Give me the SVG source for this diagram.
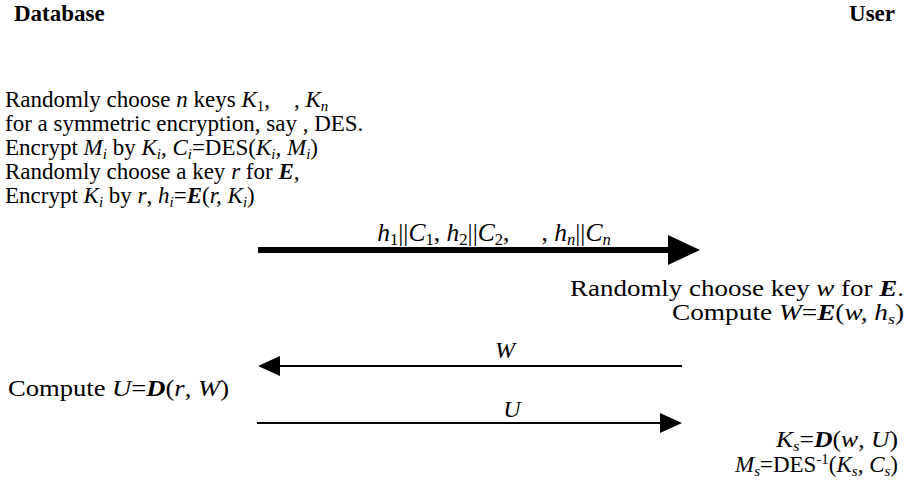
<svg xmlns="http://www.w3.org/2000/svg" width="907" height="490" viewBox="0 0 907 490">
<style>
text{font-family:'Liberation Serif','Times New Roman',serif;font-size:23px;fill:#000}
.t{font-weight:bold;font-size:23px}
.r{font-size:24px}
.lw{font-size:24px}
.rw{font-size:23px}
.lab{font-size:25.5px}
.i{font-style:italic}
.b{font-weight:bold;font-style:italic}
.s{font-size:0.65em;baseline-shift:-4px}
.p{font-size:0.65em;baseline-shift:8px}
.ln{stroke:#000;fill:none}
</style>
<defs>
<marker id="big" viewBox="0 0 32 30" refX="0" refY="15" markerWidth="32" markerHeight="30" markerUnits="userSpaceOnUse" orient="auto"><path d="M0,0 L32,15 L0,30 Z" fill="#000"/></marker>
<marker id="sm" viewBox="0 0 22 20" refX="0" refY="10" markerWidth="22" markerHeight="20" markerUnits="userSpaceOnUse" orient="auto"><path d="M0,0 L22,10 L0,20 Z" fill="#000"/></marker>
</defs>
<rect width="907" height="490" fill="#fff"/>
<g font-family="Liberation Serif, serif">
<g id="database"><text class="t" x="14" y="21">Database</text></g>
<g id="user"><text class="t" x="895" y="21" text-anchor="end">User</text></g>
<g id="db-step1">
<text x="5" y="107">Randomly choose <tspan class="i">n</tspan> keys <tspan class="i">K</tspan><tspan class="s">1</tspan>,<tspan dx="24">, </tspan><tspan class="i">K</tspan><tspan class="s i">n</tspan></text>
<text x="5" y="131">for a symmetric encryption, say , DES.</text>
<text x="5" y="155">Encrypt <tspan class="i">M</tspan><tspan class="s i">i</tspan> by <tspan class="i">K</tspan><tspan class="s i">i</tspan><tspan class="i">, C</tspan><tspan class="s i">i</tspan>=DES(<tspan class="i">K</tspan><tspan class="s i">i</tspan><tspan class="i">, M</tspan><tspan class="s i">i</tspan>)</text>
<text x="5" y="179">Randomly choose a key <tspan class="i">r</tspan> for <tspan class="b">E</tspan>,</text>
<text x="5" y="203">Encrypt <tspan class="i">K</tspan><tspan class="s i">i</tspan> by <tspan class="i">r</tspan>, <tspan class="i">h</tspan><tspan class="s i">i</tspan>=<tspan class="b">E</tspan>(<tspan class="i">r, K</tspan><tspan class="s i">i</tspan>)</text>
</g>
<g id="user-step1">
<text class="r" x="904" y="296" text-anchor="end" textLength="334" lengthAdjust="spacingAndGlyphs">Randomly choose key <tspan class="i">w</tspan> for <tspan class="b">E</tspan>.</text>
<text class="r" x="904" y="320" text-anchor="end" textLength="232" lengthAdjust="spacingAndGlyphs">Compute <tspan class="i">W</tspan>=<tspan class="b">E</tspan>(<tspan class="i">w, h</tspan><tspan class="s i">s</tspan>)</text>
</g>
<g id="db-step2">
<text class="lw" x="8" y="396" textLength="221" lengthAdjust="spacingAndGlyphs">Compute <tspan class="i">U</tspan>=<tspan class="b">D</tspan>(<tspan class="i">r</tspan>, <tspan class="i">W</tspan>)</text>
</g>
<g id="user-step2">
<text class="rw" x="898" y="447" text-anchor="end" textLength="122" lengthAdjust="spacingAndGlyphs"><tspan class="i">K</tspan><tspan class="s i">s</tspan>=<tspan class="b">D</tspan>(<tspan class="i">w</tspan>, <tspan class="i">U</tspan>)</text>
<text class="rw" x="898" y="472" text-anchor="end" textLength="163" lengthAdjust="spacingAndGlyphs"><tspan class="i">M</tspan><tspan class="s i">s</tspan>=DES<tspan class="p">-1</tspan>(<tspan class="i">K</tspan><tspan class="s i">s</tspan><tspan class="i">, C</tspan><tspan class="s i">s</tspan>)</text>
</g>
<g id="connectors">
<line class="ln" x1="258" y1="250" x2="668" y2="250" stroke-width="6" marker-end="url(#big)"/>
<text class="lab" x="494" y="241" text-anchor="middle"><tspan class="i">h</tspan><tspan class="s">1</tspan>||<tspan class="i">C</tspan><tspan class="s">1</tspan>, <tspan class="i">h</tspan><tspan class="s">2</tspan>||<tspan class="i">C</tspan><tspan class="s">2</tspan>,<tspan dx="32">, </tspan><tspan class="i">h</tspan><tspan class="s i">n</tspan>||<tspan class="i">C</tspan><tspan class="s i">n</tspan></text>
<line class="ln" x1="682" y1="366" x2="280" y2="366" stroke-width="2" marker-end="url(#sm)"/>
<text class="i lw" x="505" y="358" text-anchor="middle">W</text>
<line class="ln" x1="257" y1="423" x2="660" y2="423" stroke-width="2" marker-end="url(#sm)"/>
<text class="i lw" x="512" y="417" text-anchor="middle">U</text>
</g>
</g>
</svg>
